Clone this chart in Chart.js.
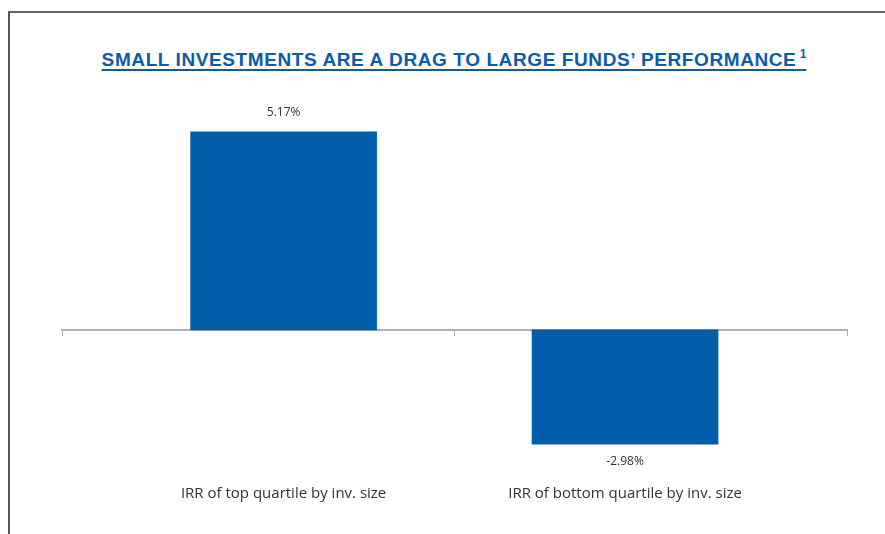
<!DOCTYPE html>
<html>
<head>
<meta charset="utf-8">
<script src="https://cdn.jsdelivr.net/npm/chart.js@4.4.1/dist/chart.umd.min.js"></script>
<style>
  html, body { margin: 0; padding: 0; background: #fff; }
  #wrap { position: relative; width: 885px; height: 534px; overflow: hidden; }
  #frame { position: absolute; left: 8px; top: 11px; right: -5px; bottom: -5px;
    border-top: 2px solid #666; border-left: 2px solid #555; }
  #title { position: absolute; left: 0; width: 908px; top: 49px; text-align: center;
    font: bold 19px "Liberation Sans", Arial, sans-serif; letter-spacing: 0.6px; color: #0b5ca8; white-space: nowrap; }
  #title span { text-decoration: underline; text-decoration-thickness: 2px; text-underline-offset: 3px; }
  #title sup { font-size: 12px; vertical-align: 8px; line-height: 0; letter-spacing: 0; }
  canvas { position: absolute; left: 0; top: 0; }
</style>
</head>
<body>
<div id="wrap">
  <div id="frame"></div>
  <div id="title"><span>SMALL INVESTMENTS ARE A DRAG TO LARGE FUNDS’ PERFORMANCE<sup> 1</sup></span></div>
  <canvas id="chart" width="885" height="534"></canvas>
</div>
<script>
const categories = ['IRR of top quartile by inv. size', 'IRR of bottom quartile by inv. size'];
const irrValues = [5.17, -2.98];
const valueLabels = ['5.17%', '-2.98%'];

const barBlue = '#005daa';
const axisGrey = '#b0b0b0';

// value labels above / below each bar
const valueLabelPlugin = {
  id: 'valueLabels',
  afterDatasetsDraw(chart) {
    const { ctx } = chart;
    const meta = chart.getDatasetMeta(0);
    ctx.save();
    ctx.font = '12px "Open Sans", sans-serif';
    ctx.fillStyle = '#333';
    ctx.textAlign = 'center';
    ctx.textBaseline = 'middle';
    meta.data.forEach((bar, i) => {
      const up = irrValues[i] >= 0;
      ctx.fillText(valueLabels[i], bar.x, bar.y + (up ? -19 : 18));
    });
    ctx.restore();
  },
};

new Chart(document.getElementById('chart'), {
  type: 'bar',
  data: {
    datasets: [{
      data: irrValues.map((v, i) => ({ x: i, y: v })),
      backgroundColor: barBlue,
      borderWidth: 0,
      barThickness: 186,
    }],
  },
  options: {
    responsive: false,
    animation: false,
    layout: { padding: { left: 62, right: 38, top: 100, bottom: 18 } },
    plugins: { legend: { display: false }, tooltip: { enabled: false } },
    scales: {
      x: {
        type: 'linear',
        offset: false,
        min: -0.649,
        max: 1.65,
        grid: { display: false },
        border: { display: false },
        afterBuildTicks: (s) => { s.ticks = categories.map((_, i) => ({ value: i })); },
        ticks: {
          padding: 13,
          color: '#333',
          maxRotation: 0,
          font: { family: '"Open Sans", sans-serif', size: 15 },
          callback: (v) => categories[v],
        },
      },
      x2: {
        type: 'category',
        labels: categories,
        position: { y: 0 },
        offset: true,
        grid: { offset: true, drawOnChartArea: false, drawTicks: true, tickLength: 5, color: axisGrey, lineWidth: 1 },
        border: { display: true, color: axisGrey, width: 2 },
        ticks: { display: false },
      },
      y: {
        display: false,
        min: -3.5,
        max: 6,
      },
    },
  },
  plugins: [valueLabelPlugin],
});
</script>
</body>
</html>
